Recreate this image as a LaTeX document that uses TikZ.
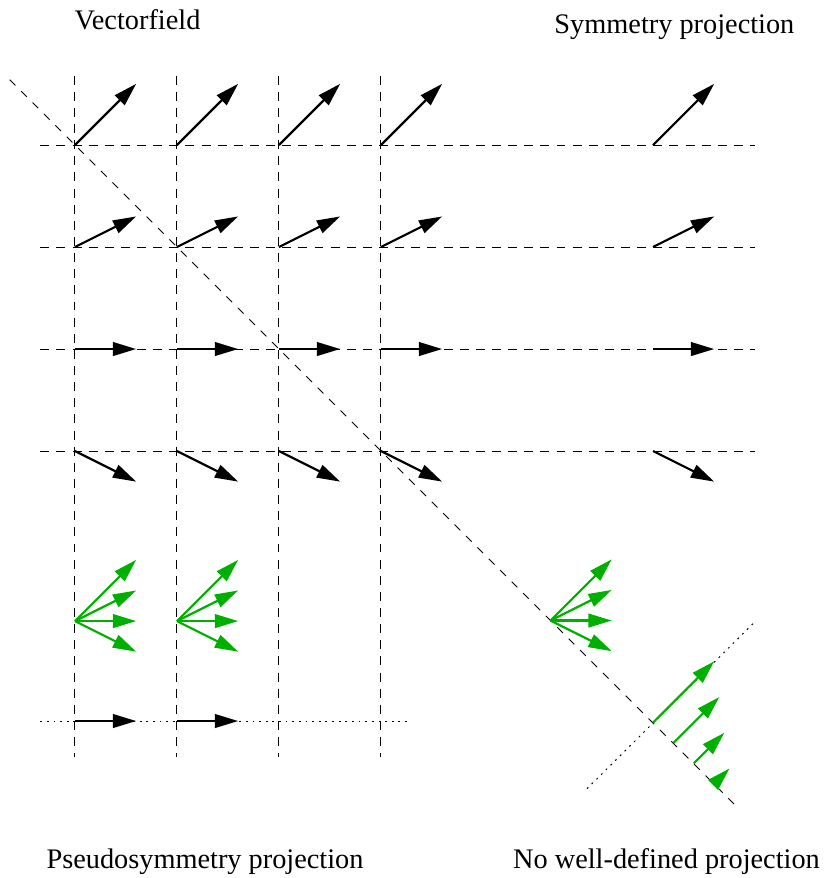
\documentclass[tikz,border=0pt]{standalone}
\usepackage{fontspec}
\setmainfont{Liberation Serif}
\usetikzlibrary{arrows.meta}
\definecolor{vgreen}{RGB}{0,176,0}
\begin{document}
\begin{tikzpicture}[x=2cm,y=2cm,
  guide/.style={line width=0.55pt, dash pattern=on 5pt off 4pt},
  diagline/.style={line width=0.5pt, dash pattern=on 4.5pt off 4.5pt},
  dotline/.style={line width=0.55pt, dash pattern=on 1pt off 2.7pt},
  vec/.style={line width=1.2pt, -{Triangle[length=13pt,width=7.6pt]}},
  gvec/.style={vec, vgreen},
  lbl/.style={font=\fontsize{15.8}{19}\selectfont, anchor=base, inner sep=0pt}]
\useasboundingbox (-0.735,1.422) rectangle (7.392,-7.186);

% grid guides
\foreach \x in {0,1,2,3} \draw[guide] (\x,0.68) -- (\x,-6.0);
\foreach \y in {0,-1,-2,-3} \draw[guide] (-0.34,\y) -- (6.67,\y);
% symmetry axis
\coordinate (d1) at (-0.64,0.64);
\coordinate (d2) at (6.46,-6.46);
\draw[diagline] (d1) -- (d2);
% dotted lines
\coordinate (b1) at (-0.34,-5.647);
\coordinate (b2) at (3.28,-5.647);
\draw[dotline] (b1) -- (b2);
\coordinate (p1) at (5.02,-6.31);
\coordinate (p2) at (6.67,-4.67);
\draw[dotline] (p1) -- (p2);

% vector field (black)
\foreach \x [count=\i] in {0,1,2,3,5.667}{
  \foreach \y/\dy [count=\j] in {0/0.6,-1/0.3,-2/0,-3/-0.3}{
    \coordinate (o-\i-\j) at (\x,\y);
    \coordinate (t-\i-\j) at (\x+0.6,\y+\dy);
    \draw[vec] (o-\i-\j) -- (t-\i-\j);
  }
}

% green fans
\foreach \x/\y [count=\i] in {0/-4.667,1/-4.667,4.662/-4.662}{
  \coordinate (g-\i) at (\x,\y);
  \foreach \dy [count=\j] in {0.6,0.3,0,-0.3}{
    \coordinate (gt-\i-\j) at (\x+0.6,\y+\dy);
    \draw[gvec] (g-\i) -- (gt-\i-\j);
  }
}

% pseudosymmetry projection arrows
\foreach \x [count=\i] in {0,1}{
  \coordinate (q-\i) at (\x,-5.647);
  \coordinate (qt-\i) at (\x+0.6,-5.647);
  \draw[vec] (q-\i) -- (qt-\i);
}

% no well-defined projection arrows
\foreach \k/\len in {0/0.6,1/0.45,2/0.3,3/0.15}{
  \coordinate (n-\k) at (5.667+0.2*\k,-5.662-0.2*\k);
  \coordinate (nt-\k) at (5.667+0.2*\k+\len,-5.662-0.2*\k+\len);
  \draw[gvec] (n-\k) -- (nt-\k);
}

% labels
\node[lbl] (l1) at (0.613,1.137) {Vectorfield};
\node[lbl] (l2) at (5.877,1.098) {Symmetry projection};
\node[lbl] (l3) at (1.275,-7.088) {Pseudosymmetry projection};
\node[lbl] (l4) at (5.799,-7.088) {No well-defined projection};
\end{tikzpicture}
\end{document}
